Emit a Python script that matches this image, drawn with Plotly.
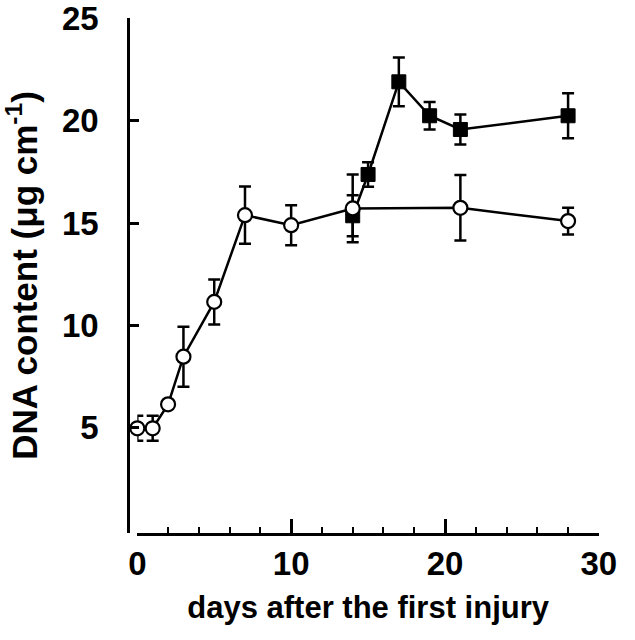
import plotly.graph_objects as go

# Data
control_days = [0, 1, 2, 3, 5, 7, 10, 14, 21, 28]
control_dna = [4.97, 4.97, 6.14, 8.47, 11.15, 15.39, 14.9, 15.72, 15.75, 15.1]
control_err = [0.61, 0.61, 0.2, 1.47, 1.1, 1.4, 0.98, 1.66, 1.6, 0.65]

treated_days = [14, 15, 17, 19, 21, 28]
treated_dna = [15.36, 17.38, 21.91, 20.25, 19.58, 20.25]
treated_err = [1.0, 0.6, 1.19, 0.67, 0.73, 1.1]

x_ticks = [0, 10, 20, 30]
y_ticks = [5, 10, 15, 20, 25]

W, H = 635, 640
ML, MR, MT, MB = 128, 36, 18, 107
plot_w = W - ML - MR
x_start = (137.3 - ML) / plot_w

FONT = "Liberation Sans, Arial, Helvetica, sans-serif"

fig = go.Figure()

fig.add_trace(go.Scatter(
    x=treated_days, y=treated_dna,
    mode="lines+markers",
    line=dict(color="black", width=2.5),
    marker=dict(symbol="square", size=14, color="black",
                line=dict(color="black", width=1)),
    error_y=dict(type="data", array=treated_err, visible=True,
                 color="black", thickness=2.5, width=6),
    cliponaxis=False, showlegend=False,
))

fig.add_trace(go.Scatter(
    x=control_days, y=control_dna,
    mode="lines+markers",
    line=dict(color="black", width=2.5),
    marker=dict(symbol="circle", size=14, color="white",
                line=dict(color="black", width=2.2)),
    error_y=dict(type="data", array=control_err, visible=True,
                 color="black", thickness=2.5, width=6),
    cliponaxis=False, showlegend=False,
))

fig.update_layout(
    width=W, height=H,
    margin=dict(l=ML, r=MR, t=MT, b=MB, autoexpand=False),
    paper_bgcolor="white", plot_bgcolor="white",
    font=dict(family=FONT, color="black"),
    xaxis=dict(
        domain=[x_start, 1], range=[0, 30.01], anchor="y",
        automargin=False,
        showgrid=False, zeroline=False,
        showline=True, linecolor="black", linewidth=2.5,
        ticks="inside", tickmode="array", tickvals=x_ticks,
        ticklen=14, tickwidth=2.5, tickcolor="black",
        minor=dict(ticks="inside", tickmode="linear", dtick=2, tick0=0,
                   ticklen=6, tickwidth=2.2, tickcolor="black",
                   showgrid=False),
        tickfont=dict(size=33, family=FONT, weight="bold"),
        ticklabeloverflow="allow",
        title=dict(text="days after the first injury",
                   font=dict(size=31, family=FONT, weight="bold"),
                   standoff=15),
    ),
    yaxis=dict(
        range=[-0.15, 25.03], anchor="free", position=0,
        automargin=False,
        showgrid=False, zeroline=False,
        showline=True, linecolor="black", linewidth=2.5,
        ticks="inside", tickmode="array", tickvals=y_ticks,
        ticklen=9, tickwidth=2.5, tickcolor="black",
        tickfont=dict(size=33, family=FONT, weight="bold"),
        ticklabeloverflow="allow",
        ticklabelstandoff=22,
        title=dict(text="DNA content (μg cm<sup>-1</sup>)",
                   font=dict(size=35, family=FONT, weight="bold"),
                   standoff=27),
    ),
)

fig.write_html("out.html", config={"displayModeBar": False},
               post_script="document.body.style.margin='0';")
